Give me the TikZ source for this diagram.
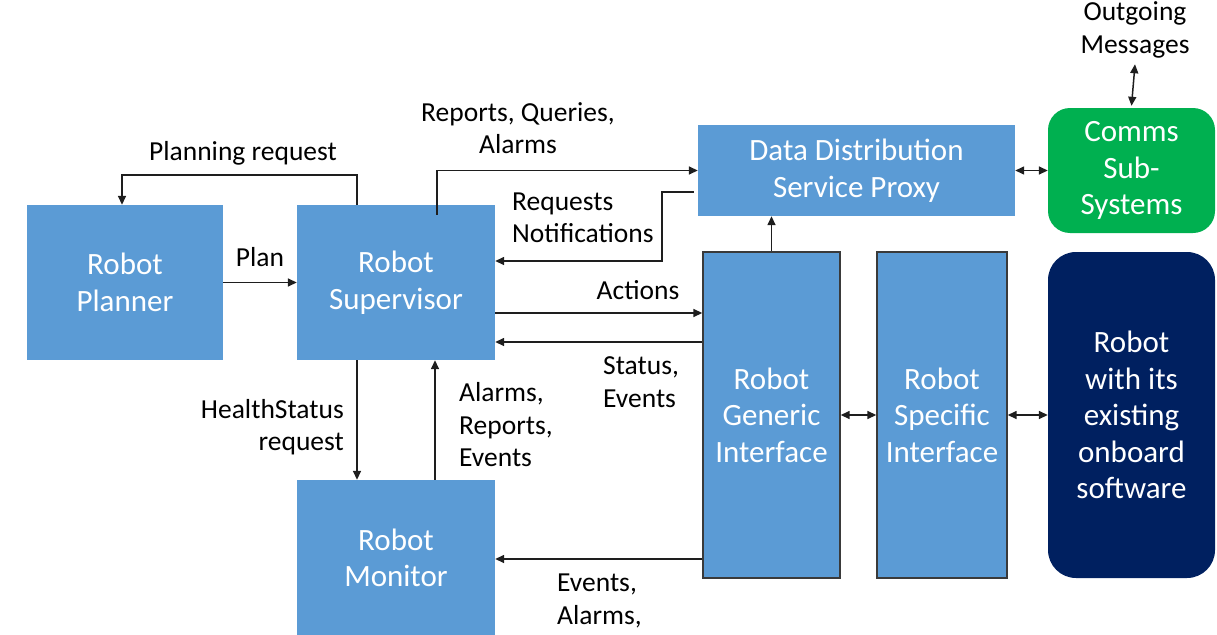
\documentclass[tikz,border=0pt]{standalone}
\usepackage{fontspec}
\setmainfont{Carlito}
\usetikzlibrary{arrows.meta}
\definecolor{boxblue}{HTML}{5B9BD5}
\definecolor{commsgreen}{HTML}{00B050}
\definecolor{robotnavy}{HTML}{002060}
\definecolor{edgegray}{HTML}{3A3A3A}
\definecolor{arrowgray}{HTML}{1E1E1E}
\tikzset{
  block/.style={fill=boxblue, text=white, align=center, inner sep=0pt,
    font=\fontsize{31}{36.5}\selectfont},
  framedblock/.style={block, draw=edgegray, line width=1.4pt},
  roundblock/.style={block, rounded corners=22pt},
  lbl/.style={text=black, inner sep=0pt, font=\fontsize{27.5}{32.5}\selectfont},
  arr/.style={draw=arrowgray, line width=1.5pt,
    -{Triangle[length=9pt,width=8pt]}},
  biarr/.style={draw=arrowgray, line width=1.5pt,
    {Triangle[length=9pt,width=8pt]}-{Triangle[length=9pt,width=8pt]}}
}
\begin{document}
\begin{tikzpicture}[x=1pt,y=-1pt]
\useasboundingbox (0,0) rectangle (1217,634);

% main blocks
\node[block, minimum width=196pt, minimum height=155pt] (planner) at (125,282.5) {Robot\\Planner};
\node[block, minimum width=198pt, minimum height=155pt] (sup) at (396,282.5) {Robot\\Supervisor};
\node[block, minimum width=198pt, minimum height=156pt] (mon) at (396,558) {Robot\\Monitor};
\node[block, minimum width=317pt, minimum height=91pt] (dds) at (856.5,170.5) {Data Distribution\\Service Proxy};
\node[roundblock, fill=commsgreen, minimum width=167pt, minimum height=125pt] (comms) at (1131.5,170.5) {Comms\\Sub-\\Systems};
\node[framedblock, minimum width=137pt, minimum height=326pt] (gen) at (771.5,415) {Robot\\Generic\\Interface};
\node[framedblock, minimum width=130pt, minimum height=326pt] (spec) at (942,415) {Robot\\Specific\\Interface};
\node[roundblock, fill=robotnavy, rounded corners=28pt, minimum width=167pt, minimum height=326pt] (rsw) at (1131.5,415) {Robot\\with its\\existing\\onboard\\software};

% free-standing label with its own connector
\node[lbl, align=center] (out) at (1135,30) {Outgoing\\Messages};

% connector labels
\node[lbl] (lplanreq) at (243,153) {Planning request};
\node[lbl] (lplan) at (260,257) {Plan};
\node[lbl, align=center] (lreports) at (518,128) {Reports, Queries,\\Alarms};
\node[lbl, align=left, anchor=west] (lrequests) at (512,218) {Requests\\Notifications};
\node[lbl] (lactions) at (638,290) {Actions};
\node[lbl, align=left, anchor=west] (lstatus) at (603,382) {Status,\\Events};
\node[lbl, align=right, anchor=east] (lhealth) at (344,427) {HealthStatus\\request};
\node[lbl, align=left, anchor=west] (lalarms) at (459,425) {Alarms,\\Reports,\\Events};
\node[lbl, align=left, anchor=west] (levents) at (557,601) {Events,\\Alarms,};

% connectors
\draw[arr] ([xshift=-39pt]sup.north) -- ++(0,-30) -| ([xshift=-3pt]planner.north);
\draw[arr] (planner.east) -- (sup.west);
\draw[arr] ([xshift=41pt,yshift=-10pt]sup.north) |- (dds.west);
\draw[arr] ([xshift=-4pt,yshift=-21.5pt]dds.west) -- ++(-32,0) |- ([yshift=21.5pt]sup.east);
\draw[arr] ([yshift=-30.5pt]sup.east) -- ([yshift=-30.5pt]sup.east -| gen.west);
\draw[arr] ([yshift=-59.5pt]sup.east -| gen.west) -- ([yshift=-59.5pt]sup.east);
\draw[arr] (gen.north) -- (gen.north |- dds.south);
\draw[arr] ([xshift=-39pt]sup.south) -- ([xshift=-39pt]mon.north);
\draw[arr] ([xshift=39pt]mon.north) -- ([xshift=39pt]sup.south);
\draw[arr] ([yshift=-1pt]mon.east -| gen.west) -- ([yshift=-1pt]mon.east);
\draw[biarr] (dds.east) -- (comms.west);
\draw[biarr] ([yshift=-6pt]out.south) -- ([yshift=2pt]comms.north);
\draw[biarr] (gen.east) -- (spec.west);
\draw[biarr] (spec.east) -- (rsw.west);
\end{tikzpicture}
\end{document}
